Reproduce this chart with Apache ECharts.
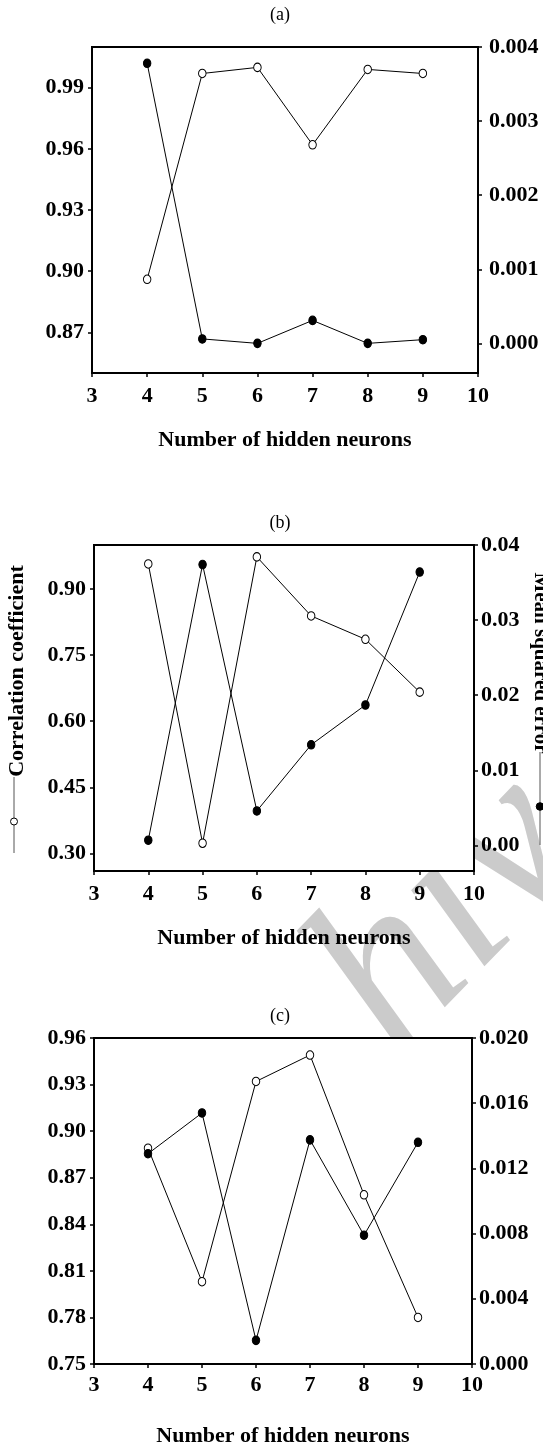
<!DOCTYPE html>
<html>
<head>
<meta charset="utf-8">
<script src="https://cdn.jsdelivr.net/npm/echarts@6/dist/echarts.min.js"></script>
<style>
html,body{margin:0;padding:0;background:#fff;}
#chart{width:543px;height:1447px;}
</style>
</head>
<body>
<div id="chart"></div>
<script>
// ---- data ----
const neurons = [4, 5, 6, 7, 8, 9];
const xAxisName = 'Number of hidden neurons';
const panelTitles = ['(a)', '(b)', '(c)'];

const corrA = [0.896, 0.997, 1.000, 0.962, 0.999, 0.997];
const mseA  = [0.00378, 0.00006, 0.00000, 0.00031, 0.00000, 0.00005];
const corrB = [0.957, 0.323, 0.973, 0.839, 0.786, 0.666];
const mseB  = [0.0007, 0.0374, 0.0046, 0.0134, 0.0187, 0.0364];
const corrC = [0.889, 0.803, 0.932, 0.949, 0.859, 0.780];
const mseC  = [0.0129, 0.0154, 0.00145, 0.01375, 0.0079, 0.0136];

const leftTicksA  = [0.87, 0.90, 0.93, 0.96, 0.99];
const rightTicksA = [0.000, 0.001, 0.002, 0.003, 0.004];
const leftTicksB  = [0.30, 0.45, 0.60, 0.75, 0.90];
const rightTicksB = [0.00, 0.01, 0.02, 0.03, 0.04];
const leftTicksC  = [0.75, 0.78, 0.81, 0.84, 0.87, 0.90, 0.93, 0.96];
const rightTicksC = [0.000, 0.004, 0.008, 0.012, 0.016, 0.020];

const leftAxisName = 'Correlation coefficient';
const rightAxisName = 'Mean squared error';
const watermarkText = 'hiv';

// ---- layout ----
const FONT = 'Liberation Serif';
const panels = [
  {grid:{left:92, top:47, width:386, height:326}, lmin:0.85, lmax:1.01, rmin:-0.0004, rmax:0.004,
   lt:leftTicksA, rt:rightTicksA, ld:2, rd:3, corr:corrA, mse:mseA, xMargin:12, nameGap:56, rMargin:11},
  {grid:{left:94, top:545, width:380, height:326}, lmin:0.26, lmax:1.0, rmin:-0.0034, rmax:0.04,
   lt:leftTicksB, rt:rightTicksB, ld:2, rd:2, corr:corrB, mse:mseB, xMargin:12, nameGap:56, rMargin:7},
  {grid:{left:94, top:1038, width:378, height:326}, lmin:0.75, lmax:0.96, rmin:0, rmax:0.02,
   lt:leftTicksC, rt:rightTicksC, ld:2, rd:3, corr:corrC, mse:mseC, xMargin:10, nameGap:61, rMargin:7}
];

const labelStyle = {color:'#000', fontFamily:FONT, fontWeight:'bold', fontSize:22};
const grids = [], xAxes = [], yAxes = [], series = [];
panels.forEach((p, i) => {
  grids.push(Object.assign({show:true, borderColor:'#000', borderWidth:2, backgroundColor:'#fff',
    outerBoundsMode:'none', containLabel:false}, p.grid));
  xAxes.push({type:'value', gridIndex:i, min:3, max:10, interval:1,
    axisLine:{show:true, onZero:false, lineStyle:{color:'#000', width:2}},
    axisTick:{show:true, inside:false, length:4, lineStyle:{color:'#000', width:1.5}},
    splitLine:{show:false},
    axisLabel:Object.assign({margin:p.xMargin}, labelStyle),
    name:xAxisName, nameLocation:'middle', nameGap:p.nameGap,
    nameTextStyle:Object.assign({}, labelStyle)});
  yAxes.push({type:'value', gridIndex:i, position:'left', min:p.lmin, max:p.lmax,
    axisLine:{show:true, onZero:false, lineStyle:{color:'#000', width:2}},
    axisTick:{show:true, length:4, customValues:p.lt, lineStyle:{color:'#000', width:1.5}},
    splitLine:{show:false},
    axisLabel:Object.assign({margin:8, customValues:p.lt, formatter:v => v.toFixed(p.ld)}, labelStyle)});
  yAxes.push({type:'value', gridIndex:i, position:'right', min:p.rmin, max:p.rmax,
    axisLine:{show:true, onZero:false, lineStyle:{color:'#000', width:2}},
    axisTick:{show:true, length:4, customValues:p.rt, lineStyle:{color:'#000', width:1.5}},
    splitLine:{show:false},
    axisLabel:Object.assign({margin:p.rMargin, customValues:p.rt, formatter:v => v.toFixed(p.rd)}, labelStyle)});
  series.push({type:'line', xAxisIndex:i, yAxisIndex:2*i, name:'corr',
    data:neurons.map((n, k) => [n, p.corr[k]]),
    symbol:'circle', symbolSize:[7.5, 8.5], showAllSymbol:true,
    lineStyle:{color:'#000', width:1}, itemStyle:{color:'#fff', borderColor:'#000', borderWidth:1},
    animation:false, z:3});
  series.push({type:'line', xAxisIndex:i, yAxisIndex:2*i+1, name:'mse',
    data:neurons.map((n, k) => [n, p.mse[k]]),
    symbol:'circle', symbolSize:[7.5, 8.5], showAllSymbol:true,
    lineStyle:{color:'#000', width:1}, itemStyle:{color:'#000', borderColor:'#000', borderWidth:1},
    animation:false, z:4});
});

const titleY = [15.5, 523.5, 1016.5];
const graphic = [
  // faint watermark (behind the white plot areas)
  {type:'text', x:450, y:915, rotation:0.8, z:-10, silent:true,
   style:{text:watermarkText, font:'italic 230px "Liberation Serif"', fill:'#cbcbcb', align:'center', verticalAlign:'middle'}}
];
panelTitles.forEach((t, i) => graphic.push({type:'text', x:280, y:titleY[i], z:10,
  style:{text:t, font:'18px "Liberation Serif"', fill:'#000', align:'center', verticalAlign:'middle'}}));
// panel (b) axis titles with legend glyphs
graphic.push(
  {type:'text', x:17, y:671, rotation:Math.PI/2, z:10,
   style:{text:leftAxisName, font:'bold 22px "Liberation Serif"', fill:'#000', align:'center', verticalAlign:'middle'}},
  {type:'line', z:10, shape:{x1:14, y1:777, x2:14, y2:853}, style:{stroke:'#555', lineWidth:1}},
  {type:'circle', z:11, shape:{cx:14, cy:821.5, r:3.5}, style:{fill:'#fff', stroke:'#000', lineWidth:1}},
  {type:'text', x:540, y:663, rotation:-Math.PI/2, z:10,
   style:{text:rightAxisName, font:'bold 21px "Liberation Serif"', fill:'#000', align:'center', verticalAlign:'middle'}},
  {type:'line', z:10, shape:{x1:540, y1:752, x2:540, y2:845}, style:{stroke:'#555', lineWidth:1}},
  {type:'circle', z:11, shape:{cx:540, cy:806.5, r:3.8}, style:{fill:'#000', stroke:'#000', lineWidth:1}}
);

const chart = echarts.init(document.getElementById('chart'), null, {renderer:'canvas', width:543, height:1447});
chart.setOption({
  animation:false,
  backgroundColor:'#fff',
  grid:grids, xAxis:xAxes, yAxis:yAxes, series:series, graphic:graphic
});
</script>
</body>
</html>
